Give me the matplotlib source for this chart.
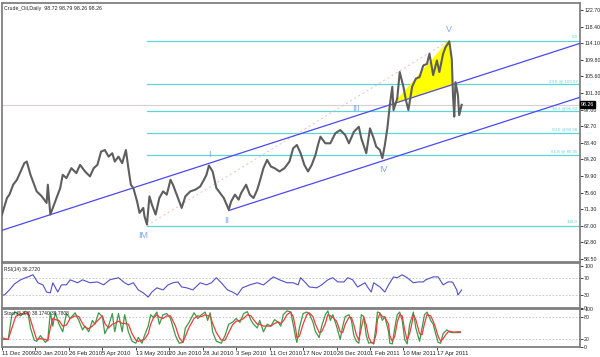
import matplotlib
matplotlib.use("Agg")
import matplotlib.pyplot as plt

plt.rcParams["font.family"] = ["Liberation Sans", "DejaVu Sans"]

# price samples (bar index, close)
bars = [0, 4, 6, 9, 12, 15, 18, 20, 23, 25, 28, 32, 36, 37, 39, 43, 47, 49, 52, 56,
        60, 63, 67, 71, 74, 77, 80, 83, 86, 89, 91, 94, 97, 100, 102, 104, 106, 109,
        111, 114, 115, 117, 119, 121, 124, 127, 130, 133, 136, 138, 141, 145, 148, 152,
        156, 160, 163, 165, 167, 170, 173, 176, 179, 183, 185, 188, 191, 193, 197, 200,
        203, 206, 208, 211, 214, 217, 220, 224, 228, 232, 235, 238, 241, 244, 247, 250,
        253, 255, 257, 261, 265, 269, 273, 277, 280, 284, 288, 290, 294, 297, 300, 302,
        305, 307, 309, 311, 313, 315, 316, 319, 321, 324, 326, 328, 331, 334, 337, 340,
        343, 345, 348, 351, 353, 356, 358, 361, 363, 364, 365, 366, 368, 369, 371]
closes = [69.96, 74.23, 75.10, 77.65, 78.90, 81.07, 83.20, 83.63, 80.20, 78.50, 75.94,
          74.70, 72.95, 77.65, 69.96, 73.38, 76.80, 80.20, 79.36, 81.92, 80.64, 82.78,
          81.07, 79.80, 81.92, 82.78, 86.20, 86.60, 84.90, 85.77, 83.63, 84.90, 83.20,
          86.60, 81.92, 77.65, 76.80, 73.38, 70.38, 71.67, 69.53, 67.40, 74.66, 72.50,
          69.96, 74.23, 75.94, 75.10, 78.93, 77.65, 75.10, 71.67, 74.66, 75.94, 76.37,
          77.20, 78.93, 80.20, 82.60, 81.07, 76.80, 75.50, 74.23, 71.24, 73.38, 75.10,
          73.80, 75.50, 77.65, 75.10, 74.23, 76.37, 78.50, 81.92, 84.06, 82.35, 81.92,
          81.07, 81.92, 83.63, 87.05, 87.90, 85.77, 82.78, 81.07, 82.78, 85.34, 87.90,
          90.04, 88.33, 88.33, 90.90, 91.75, 90.47, 88.33, 91.32, 92.60, 89.60, 85.77,
          92.18, 89.60, 87.48, 86.60, 84.49, 87.90, 92.18, 98.16, 102.90, 96.90, 99.90,
          106.70, 102.90, 99.45, 96.90, 102.90, 105.00, 105.40, 108.40, 108.80, 111.40,
          105.90, 109.70, 106.70, 111.40, 113.10, 114.60, 110.10, 100.70, 95.20, 104.10,
          100.70, 95.60, 98.26]

price_ticks = [122.70, 118.40, 114.10, 109.80, 105.60, 101.30, 97.00, 92.70, 88.40,
               84.20, 79.90, 75.60, 71.30, 67.00, 62.80, 58.50]
last_price = 98.26

# fibonacci retracement
fib_high, fib_low = 114.83, 67.13
fib_start = 117
fib_levels = [0.0, 23.6, 38.2, 50.0, 61.8, 100.0]
fib_labels = ["0.0", "23.6 @ 103.57", "38.2 @96.62", "50.0 @90.98", "61.8 @ 85.35", "100.0"]

# channel (start bar, start price, end bar, end price)
chan_upper = (0, 65.9, 466.5, 114.1)
chan_lower = (183, 71.0, 466.5, 100.2)

waves = ["IM", "I", "II", "III", "IV", "V"]
wave_bar = [114, 167, 181, 286, 308, 361]
wave_price = [64.6, 85.4, 68.3, 97.4, 81.6, 117.6]

tri_bar = [317, 361, 364]
tri_price = [98.7, 114.83, 103.5]

# RSI(14)
rsi_bar = [0, 2, 6, 10, 15, 19, 21, 25, 29, 33, 36, 39, 41, 45, 48, 52, 55, 61, 65, 71,
           77, 82, 87, 94, 99, 102, 106, 110, 114, 118, 121, 125, 130, 134, 138, 142,
           145, 149, 154, 160, 165, 169, 173, 177, 182, 186, 190, 194, 200, 206, 211,
           214, 219, 224, 230, 235, 239, 241, 245, 248, 254, 258, 263, 267, 271, 276,
           279, 283, 287, 293, 295, 298, 300, 305, 309, 312, 316, 319, 323, 327, 332,
           336, 340, 342, 348, 352, 356, 360, 363, 364, 367, 368, 371]
rsi_vals = [30, 30, 42, 56, 66, 71, 73, 78, 59, 54, 37, 35, 59, 37, 54, 54, 66, 59, 66,
            59, 61, 54, 66, 71, 59, 54, 59, 42, 35, 25, 37, 47, 42, 54, 59, 61, 49, 47,
            42, 59, 54, 59, 71, 59, 42, 37, 30, 47, 54, 59, 54, 61, 73, 66, 59, 59, 54,
            71, 59, 49, 47, 54, 66, 71, 61, 61, 71, 66, 49, 59, 49, 37, 59, 49, 37, 54,
            73, 71, 78, 71, 59, 61, 61, 66, 73, 73, 54, 61, 61, 59, 42, 30, 42, 37]

# Stochastic(5,3,3)
st_bar = [0, 2, 5, 8, 11, 15, 19, 21, 23, 26, 28, 31, 35, 37, 39, 41, 43, 46, 49, 52,
          55, 59, 62, 65, 67, 70, 73, 75, 78, 81, 83, 86, 89, 91, 94, 97, 99, 102, 105,
          108, 110, 113, 115, 118, 120, 122, 125, 127, 130, 133, 136, 140, 143, 146, 148,
          151, 155, 158, 161, 164, 166, 168, 170, 173, 177, 180, 183, 186, 189, 192, 195,
          198, 201, 203, 206, 208, 211, 214, 217, 220, 223, 225, 227, 230, 233, 235, 237,
          238, 240, 243, 246, 248, 251, 253, 256, 258, 261, 263, 265, 267, 270, 273, 275,
          277, 280, 282, 284, 286, 288, 290, 292, 294, 296, 298, 300, 302, 303, 305, 307,
          309, 312, 313, 315, 317, 319, 321, 323, 325, 327, 329, 331, 332, 334, 337, 339,
          341, 343, 346, 348, 350, 352, 354, 356, 359, 361, 363, 365, 367, 369, 370, 371]
st_k = [20, 20, 20, 85, 92, 82, 94, 88, 50, 18, 15, 30, 12, 20, 92, 55, 90, 60, 40, 88,
        75, 90, 70, 45, 55, 40, 70, 60, 90, 80, 35, 55, 88, 40, 88, 40, 85, 40, 15, 10,
        25, 10, 30, 55, 85, 78, 92, 60, 85, 88, 75, 30, 10, 12, 50, 65, 90, 75, 85, 92,
        70, 90, 40, 15, 10, 30, 60, 65, 75, 65, 88, 93, 70, 60, 50, 70, 40, 60, 55, 72,
        65, 55, 85, 95, 92, 60, 25, 12, 50, 88, 92, 88, 65, 40, 25, 55, 85, 95, 70, 85,
        55, 20, 55, 80, 85, 70, 30, 15, 10, 85, 80, 30, 10, 12, 8, 60, 92, 90, 70, 80,
        40, 10, 8, 50, 85, 92, 70, 20, 8, 60, 80, 92, 50, 15, 50, 85, 92, 70, 60, 35,
        12, 10, 35, 45, 40, 38, 38, 38, 38, 38]
st_d = [25, 22, 20, 50, 80, 88, 88, 90, 72, 40, 20, 22, 20, 16, 50, 75, 72, 70, 55, 58,
        75, 82, 80, 62, 52, 48, 55, 62, 72, 82, 62, 50, 60, 62, 68, 62, 62, 60, 35, 18,
        15, 18, 20, 35, 60, 75, 85, 78, 75, 82, 82, 55, 25, 12, 28, 52, 75, 82, 80, 85,
        82, 82, 62, 38, 18, 18, 38, 58, 68, 70, 75, 85, 82, 72, 60, 60, 55, 55, 55, 62,
        66, 62, 68, 85, 92, 80, 48, 25, 28, 60, 85, 90, 80, 60, 38, 40, 62, 85, 82, 78,
        68, 40, 38, 60, 78, 78, 58, 32, 18, 50, 78, 58, 25, 12, 10, 35, 72, 88, 80, 78,
        60, 30, 15, 28, 65, 85, 82, 45, 18, 35, 65, 85, 72, 35, 32, 62, 85, 82, 68, 50,
        28, 15, 22, 36, 42, 40, 39, 40, 40, 40]

date_labels = ["11 Dec 2009", "20 Jan 2010", "26 Feb 2010", "5 Apr 2010", "13 May 2010",
               "20 Jun 2010", "28 Jul 2010", "3 Sep 2010", "11 Oct 2010", "17 Nov 2010",
               "26 Dec 2010", "1 Feb 2011", "10 Mar 2011", "17 Apr 2011"]

# keep paired lists the same length
n = min(len(bars), len(closes))
bars, closes = bars[:n], closes[:n]
n = min(len(rsi_bar), len(rsi_vals))
rsi_bar, rsi_vals = rsi_bar[:n], rsi_vals[:n]
n = min(len(st_bar), len(st_k), len(st_d))
st_bar, st_k, st_d = st_bar[:n], st_k[:n], st_d[:n]

W, H = 600, 357
xmax = 466.5
frame_col = "#808080"
fib_col = "#5cd6d6"
chan_col = "#4a4af0"
wave_col = "#80a8ea"
txt_col = "#222222"

fig = plt.figure(figsize=(W / 100, H / 100), dpi=100)
fig.patch.set_facecolor("white")


def box(top, bottom):
    return [2 / W, 1 - bottom / H, 578 / W, (bottom - top) / H]


ax = fig.add_axes(box(3, 262))
rsi = fig.add_axes(box(263, 308))
sto = fig.add_axes(box(309, 347))

for a in (ax, rsi, sto):
    a.set_xlim(0, xmax)
    a.yaxis.tick_right()
    a.tick_params(axis="y", labelsize=3.8, length=2, width=0.6, pad=1, colors=txt_col)
    a.tick_params(axis="x", length=0)
    a.set_xticks([])
    for s in a.spines.values():
        s.set_color(frame_col)
        s.set_linewidth(1.3)

# main price panel
ax.set_ylim(57.73, 124.50)
ax.set_yticks(price_ticks)
ax.set_yticklabels([f"{v:.2f}" for v in price_ticks])
ax.axhline(last_price, color="#d8cfd4", lw=0.8, zorder=1)

for lvl, lab in zip(fib_levels, fib_labels):
    p = fib_high - (fib_high - fib_low) * lvl / 100
    ax.plot([fib_start, xmax], [p, p], color=fib_col, lw=0.9, zorder=2)
    ax.text(xmax - 2, p + 0.3, lab, color=fib_col, fontsize=3.2, ha="right", va="bottom")

ax.plot([chan_upper[0], chan_upper[2]], [chan_upper[1], chan_upper[3]], color=chan_col, lw=0.9, zorder=3)
ax.plot([chan_lower[0], chan_lower[2]], [chan_lower[1], chan_lower[3]], color=chan_col, lw=0.9, zorder=3)
ax.plot([fib_start, wave_bar[-1]], [fib_low, fib_high], color="#f4b8b8", lw=0.7, ls=(0, (2, 3)), zorder=2)
ax.fill(tri_bar, tri_price, color="#ffff00", zorder=2)

ax.plot(bars, closes, color="#5e5e5e", lw=1.5, zorder=4)

for t, b, p in zip(waves, wave_bar, wave_price):
    ax.text(b, p, t, color=wave_col, fontsize=6.5, ha="center", va="center")

ax.text(1.5, 123.0, "Crude_Oil,Daily  98.72 98.79 98.26 98.26", fontsize=3.8, va="center", color=txt_col)
ax.text(xmax + 0.8, last_price, f"{last_price:.2f}", fontsize=3.8, color="white", va="center", ha="left",
        bbox=dict(boxstyle="square,pad=0.15", fc="black", ec="black"), clip_on=False, zorder=6)

# RSI panel
rsi.set_ylim(-1, 106)
rsi.set_yticks([100, 70, 30, 0])
for lv in (70, 30):
    rsi.axhline(lv, color="#c0c0c0", lw=0.6, ls=(0, (2, 2)))
rsi.plot(rsi_bar, rsi_vals, color="#5050c8", lw=0.8)
rsi.text(1.5, 97, "RSI(14) 36.2720", fontsize=3.5, va="top", color=txt_col)

# Stochastic panel
sto.set_ylim(0, 100)
sto.set_yticks([100, 80, 20, 0])
for lv in (80, 20):
    sto.axhline(lv, color="#c0c0c0", lw=0.6, ls=(0, (2, 2)))
sto.plot(st_bar, st_k, color="#3c9a4a", lw=0.9)
sto.plot(st_bar, st_d, color="#f03c3c", lw=0.9)
sto.text(1.5, 96, "Stoch(5,3,3) 38.1740 39.7808", fontsize=3.5, va="top", color=txt_col)

sto.set_xticks([27 * i for i in range(len(date_labels))])
sto.set_xticklabels(date_labels, fontsize=4.2, ha="left")
sto.tick_params(axis="x", length=2, width=0.6, pad=1, colors=txt_col)

fig.savefig("out.png", dpi=100)
